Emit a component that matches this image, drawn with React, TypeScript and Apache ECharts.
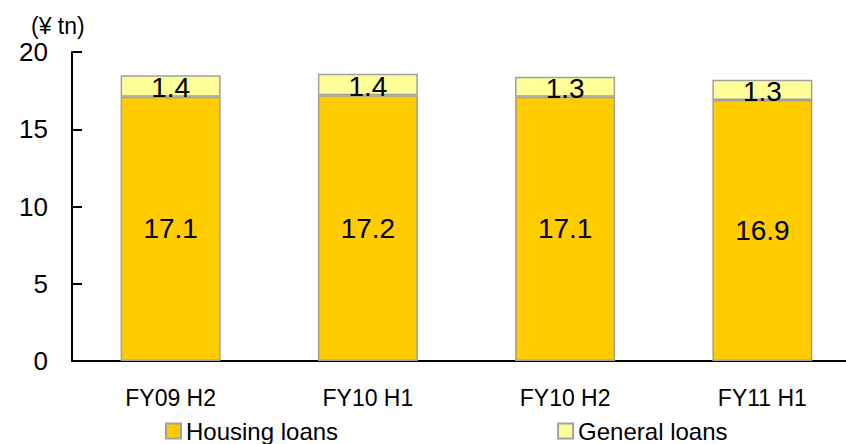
import React, { useEffect, useRef } from "react";
import * as echarts from "echarts";

const categories = ["FY09 H2", "FY10 H1", "FY10 H2", "FY11 H1"];
const housingLoans = [17.1, 17.2, 17.1, 16.9];
const generalLoans = [1.4, 1.4, 1.3, 1.3];
const yTicks = { min: 0, max: 20, interval: 5 };
const unitLabel = "(¥ tn)";

const FONT = "'Liberation Sans', Arial, sans-serif";

export default function App() {
  const ref = useRef<HTMLDivElement>(null);
  useEffect(() => {
    document.body.style.margin = "0";
    const chart = echarts.init(ref.current!, null, { renderer: "svg" });
    const border = { borderColor: "#a0a0a0", borderWidth: 1.5 };
    chart.setOption({
      animation: false,
      textStyle: { fontFamily: FONT, color: "#000" },
      grid: {
        left: 72,
        width: 789,
        top: 52,
        height: 309,
        containLabel: false,
        outerBoundsMode: "none",
      },
      graphic: [
        {
          type: "text",
          left: 31,
          top: 14,
          style: { text: unitLabel, fontSize: 23, fontFamily: FONT, fill: "#000" },
        },
      ],
      legend: {
        left: 165,
        top: 419,
        padding: 0,
        itemWidth: 15,
        itemHeight: 15,
        itemGap: 219,
        icon: "rect",
        textStyle: { fontSize: 24, fontFamily: FONT, color: "#000" },
        data: ["Housing loans", "General loans"],
      },
      xAxis: {
        type: "category",
        data: categories,
        boundaryGap: true,
        axisLine: { lineStyle: { color: "#000", width: 2 } },
        axisTick: { inside: true, length: 9, lineStyle: { color: "#000", width: 2 } },
        axisLabel: { fontSize: 23, color: "#000", margin: 25, fontFamily: FONT },
      },
      yAxis: {
        type: "value",
        min: yTicks.min,
        max: yTicks.max,
        interval: yTicks.interval,
        axisLine: { show: true, lineStyle: { color: "#000", width: 2 } },
        axisTick: { show: true, inside: true, length: 10, lineStyle: { color: "#000", width: 2 } },
        splitLine: { show: false },
        axisLabel: { fontSize: 26, color: "#000", margin: 24, fontFamily: FONT },
      },
      series: [
        {
          name: "Housing loans",
          type: "bar",
          stack: "total",
          barWidth: 100,
          data: housingLoans,
          itemStyle: { color: "#ffcc00", ...border },
          label: {
            show: true,
            position: "inside",
            fontSize: 28,
            color: "#000",
            fontFamily: FONT,
            formatter: (p: any) => p.value.toFixed(1),
          },
        },
        {
          name: "General loans",
          type: "bar",
          stack: "total",
          barWidth: 100,
          data: generalLoans,
          itemStyle: { color: "#ffff99", ...border },
          label: {
            show: true,
            position: "inside",
            offset: [0, 2],
            fontSize: 28,
            color: "#000",
            fontFamily: FONT,
            formatter: (p: any) => p.value.toFixed(1),
          },
        },
      ],
    });
    return () => chart.dispose();
  }, []);
  return <div ref={ref} style={{ width: 846, height: 444 }} />;
}
